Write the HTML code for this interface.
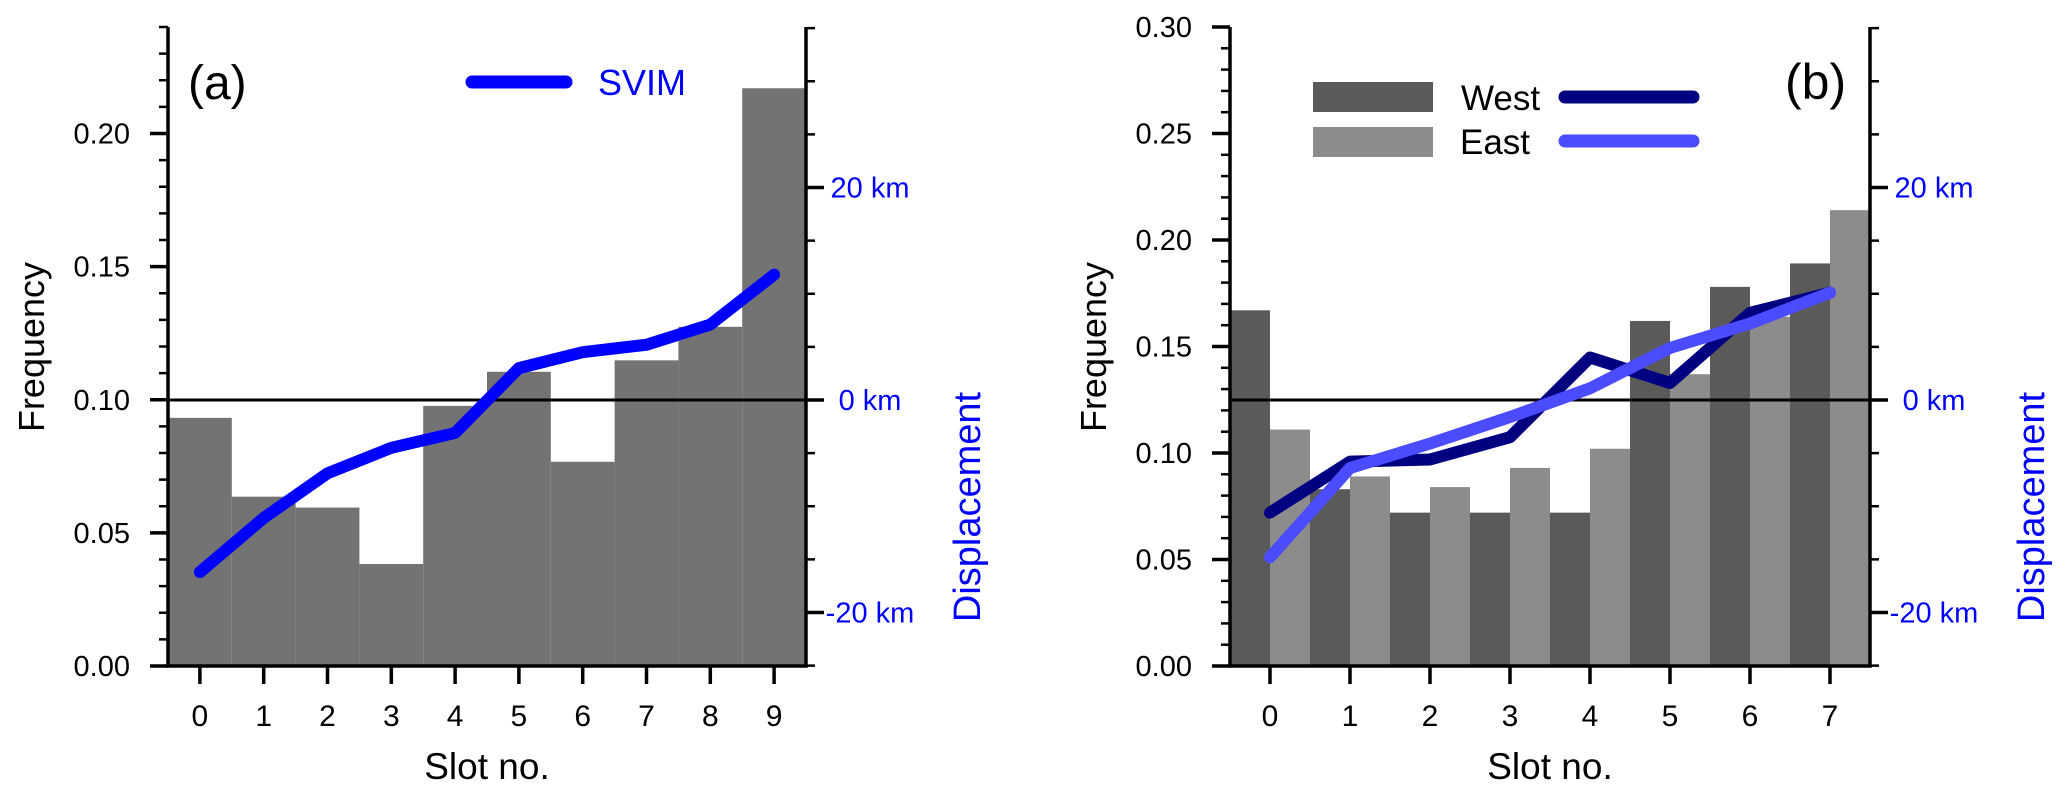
<!DOCTYPE html>
<html><head><meta charset="utf-8"><style>
html,body{margin:0;padding:0;background:#fff;}
svg{display:block;font-family:"Liberation Sans",sans-serif;}
</style></head><body>
<svg id="chart" width="2067" height="799" viewBox="0 0 2067 799" xmlns="http://www.w3.org/2000/svg"></svg>
<script>
// Panel (a) data
const aCats = [0,1,2,3,4,5,6,7,8,9];
const aFreq = [0.0932,0.0636,0.0595,0.0383,0.0977,0.1105,0.0767,0.1148,0.1274,0.217];
const aDisp = [-16.2,-11.1,-6.9,-4.5,-3.1,3.0,4.5,5.2,7.1,11.8];
const aYTicks = [0,0.05,0.10,0.15,0.20];
const aYLabels = ["0.00","0.05","0.10","0.15","0.20"];
// Panel (b) data
const bCats = [0,1,2,3,4,5,6,7];
const bWestFreq = [0.167,0.083,0.072,0.072,0.072,0.162,0.178,0.189];
const bEastFreq = [0.111,0.089,0.084,0.093,0.102,0.137,0.164,0.214];
const bWestDisp = [-10.6,-5.8,-5.6,-3.5,4.0,1.6,8.2,10.1];
const bEastDisp = [-14.8,-6.4,-4.1,-1.6,1.1,4.9,7.2,10.1];
const bYTicks = [0,0.05,0.10,0.15,0.20,0.25,0.30];
const bYLabels = ["0.00","0.05","0.10","0.15","0.20","0.25","0.30"];
const kmTicks = [-20,0,20];
const kmLabels = ["-20 km","0 km","20 km"];

const svg = document.getElementById('chart');
const NS = 'http://www.w3.org/2000/svg';
function mk(tag, attrs, parent, text){
  const e = document.createElementNS(NS, tag);
  for (const k in attrs) e.setAttribute(k, attrs[k]);
  if (text !== undefined) e.textContent = text;
  (parent||svg).appendChild(e);
  return e;
}
const TOP = 27, BOT = 666;
function kmY(v){ return 400 - v * 10.625; }

function panel(o){
  const g = mk('g', {});
  
  
  const n = o.cats.length;
  const bw = (o.x1 - o.x0) / n;
  const xC = i => o.x0 + bw * (i + 0.5);
  const yF = v => BOT - v / o.ymax * (BOT - TOP);
  o.bars.forEach(s => {
    s.vals.forEach((v, i) => {
      const x = o.x0 + bw * i + bw * s.off;
      const r = mk('rect', {x: x, y: yF(v), width: bw * s.w, height: BOT - yF(v), fill: s.color}, g);
      
      
    });
  });
  const zl = mk('line', {x1: o.x0, x2: o.x1, y1: kmY(0), y2: kmY(0), stroke: '#000', 'stroke-width': 3}, g);
  
  
  o.lines.forEach(s => {
    const pts = s.vals.map((v, i) => xC(i) + ',' + kmY(v)).join(' ');
    const pl = mk('polyline', {points: pts, fill: 'none', stroke: s.color, 'stroke-width': 12, 'stroke-linejoin': 'round', 'stroke-linecap': 'round'}, g);
    
    
  });
  const ax = mk('path', {d: `M${o.x0},${TOP}V${BOT}H${o.x1}V${TOP}`, fill: 'none', stroke: '#000', 'stroke-width': 3.5}, g);
  
  
  for (let v = 0; v <= o.ymax + 1e-9; v += 0.01) {
    mk('line', {x1: o.x0 - 9, x2: o.x0, y1: yF(v), y2: yF(v), stroke: '#000', 'stroke-width': 2.5}, g);
  }
  o.yticks.forEach((v, i) => {
    mk('line', {x1: o.x0 - 18, x2: o.x0, y1: yF(v), y2: yF(v), stroke: '#000', 'stroke-width': 3.5}, g);
    const t = mk('text', {x: o.x0 - 38, y: yF(v) + 10, 'font-size': 29, 'text-anchor': 'end', fill: '#000'}, g, o.ylabels[i]);
    
    
  });
  o.cats.forEach((c, i) => {
    mk('line', {x1: xC(i), x2: xC(i), y1: BOT, y2: BOT + 18, stroke: '#000', 'stroke-width': 3.5}, g);
    const t = mk('text', {x: xC(i), y: 726, 'font-size': 30, 'text-anchor': 'middle', fill: '#000'}, g, String(c));
    
    
  });
  for (let v = -25; v <= 35; v += 5) {
    const major = (v % 20 === 0);
    mk('line', {x1: o.x1, x2: o.x1 + (major ? 18 : 9), y1: kmY(v), y2: kmY(v), stroke: '#000', 'stroke-width': major ? 3.5 : 2.5}, g);
  }
  kmTicks.forEach((v, i) => {
    const t = mk('text', {x: o.x1 + 64, y: kmY(v) + 10, 'font-size': 29, 'text-anchor': 'middle', fill: '#0000ff'}, g, kmLabels[i]);
    
    
  });
  const xt = mk('text', {x: (o.x0 + o.x1) / 2, y: 779, 'font-size': 37, 'text-anchor': 'middle', fill: '#000'}, g, 'Slot no.');
  
  
  const yt = mk('text', {x: 0, y: 0, 'font-size': 36, 'text-anchor': 'middle', fill: '#000', transform: `translate(${o.x0 - 124},347) rotate(-90)`}, g, 'Frequency');
  
  
  const rt = mk('text', {x: 0, y: 0, 'font-size': 38, 'text-anchor': 'middle', fill: '#0000ff', transform: `translate(${o.x1 + 174},507) rotate(-90)`}, g, 'Displacement');
  
  
  return g;
}

panel({name: 'panel-a', x0: 168, x1: 806, ymax: 0.24, cats: aCats, yticks: aYTicks, ylabels: aYLabels,
  bars: [{key: 'svim', vals: aFreq, off: 0, w: 1, color: '#737373'}],
  lines: [{key: 'svim', vals: aDisp, color: '#0000ff'}]});
panel({name: 'panel-b', x0: 1230, x1: 1870, ymax: 0.30, cats: bCats, yticks: bYTicks, ylabels: bYLabels,
  bars: [{key: 'west', vals: bWestFreq, off: 0, w: 0.5, color: '#5a5a5a'},
         {key: 'east', vals: bEastFreq, off: 0.5, w: 0.5, color: '#8c8c8c'}],
  lines: [{key: 'west', vals: bWestDisp, color: '#000080'},
          {key: 'east', vals: bEastDisp, color: '#4b4bff'}]});

let t = mk('text', {x: 188, y: 99, 'font-size': 48, fill: '#000'}, svg, '(a)');


t = mk('text', {x: 1785, y: 99, 'font-size': 50, fill: '#000'}, svg, '(b)');



let l = mk('line', {x1: 472, x2: 566, y1: 82, y2: 82, stroke: '#0000ff', 'stroke-width': 13, 'stroke-linecap': 'round'});


t = mk('text', {x: 598, y: 95, 'font-size': 36, fill: '#0000ff'}, svg, 'SVIM');



let r = mk('rect', {x: 1313, y: 82, width: 120, height: 30, fill: '#5a5a5a'});


r = mk('rect', {x: 1313, y: 127, width: 120, height: 30, fill: '#8c8c8c'});


t = mk('text', {x: 1461, y: 110, 'font-size': 35, fill: '#000'}, svg, 'West');


t = mk('text', {x: 1460, y: 154, 'font-size': 35, fill: '#000'}, svg, 'East');


l = mk('line', {x1: 1565, x2: 1693, y1: 97, y2: 97, stroke: '#000080', 'stroke-width': 13, 'stroke-linecap': 'round'});


l = mk('line', {x1: 1565, x2: 1693, y1: 141, y2: 141, stroke: '#4b4bff', 'stroke-width': 13, 'stroke-linecap': 'round'});


</script>
</body></html>
